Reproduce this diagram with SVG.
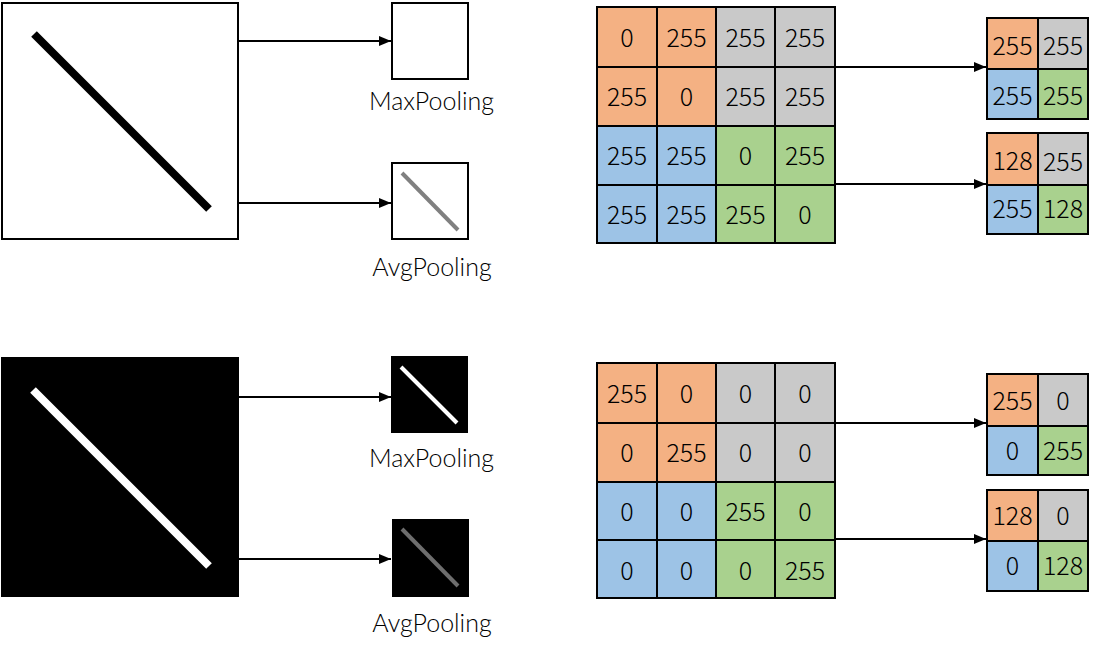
<svg xmlns="http://www.w3.org/2000/svg" width="1102" height="652" viewBox="0 0 1102 652">
<defs>
<marker id="arr" markerWidth="12" markerHeight="10" refX="12" refY="5" orient="auto" markerUnits="userSpaceOnUse">
<path d="M0,0 L12,5 L0,10 Z" fill="#000"/>
</marker>
<style>
.box{stroke:#000;stroke-width:2}
.lbl{font-family:Lato,"Liberation Sans",sans-serif;font-weight:300;font-size:25px;fill:#000;text-anchor:middle}
.c{stroke:#000;stroke-width:2}
.o{fill:#F4B183}.g{fill:#C9C9C9}.b{fill:#9DC3E6}.n{fill:#A9D18E}
.t{font-family:"Noto Sans CJK SC","Noto Sans",sans-serif;font-weight:300;font-size:25px;fill:#000;text-anchor:middle}
.conn{stroke:#000;stroke-width:2;fill:none;marker-end:url(#arr)}
</style>
</defs>
<rect width="1102" height="652" fill="#fff"/>

<g id="img-white">
<rect class="box" x="2" y="3" width="236" height="236" fill="#fff"/>
<line x1="34" y1="34" x2="209" y2="209" stroke="#000" stroke-width="8"/>
</g>
<g id="max-white">
<rect class="box" x="392" y="3" width="76" height="76" fill="#fff"/>
<text class="lbl" x="431.5" y="110">MaxPooling</text>
</g>
<g id="avg-white">
<rect class="box" x="392" y="163" width="76" height="76" fill="#fff"/>
<line x1="402" y1="173" x2="458" y2="230" stroke="#808080" stroke-width="4"/>
<text class="lbl" x="432" y="276">AvgPooling</text>
</g>

<g id="img-black">
<rect x="1" y="357" width="238" height="240" fill="#000"/>
<line x1="33" y1="390" x2="209" y2="566" stroke="#fff" stroke-width="8"/>
</g>
<g id="max-black">
<rect x="391" y="356" width="77" height="77" fill="#000"/>
<line x1="401" y1="367" x2="457" y2="423" stroke="#fff" stroke-width="4"/>
<text class="lbl" x="431.5" y="467">MaxPooling</text>
</g>
<g id="avg-black">
<rect x="392" y="519" width="77" height="78" fill="#000"/>
<line x1="402" y1="529" x2="458" y2="586" stroke="#6e6e6e" stroke-width="4"/>
<text class="lbl" x="432" y="632">AvgPooling</text>
</g>

<g id="grid-top">
<rect class="c o" x="597" y="7" width="60" height="60"/>
<rect class="c o" x="657" y="7" width="59" height="60"/>
<rect class="c g" x="716" y="7" width="59" height="60"/>
<rect class="c g" x="775" y="7" width="60" height="60"/>
<rect class="c o" x="597" y="67" width="60" height="59"/>
<rect class="c o" x="657" y="67" width="59" height="59"/>
<rect class="c g" x="716" y="67" width="59" height="59"/>
<rect class="c g" x="775" y="67" width="60" height="59"/>
<rect class="c b" x="597" y="126" width="60" height="59"/>
<rect class="c b" x="657" y="126" width="59" height="59"/>
<rect class="c n" x="716" y="126" width="59" height="59"/>
<rect class="c n" x="775" y="126" width="60" height="59"/>
<rect class="c b" x="597" y="185" width="60" height="58"/>
<rect class="c b" x="657" y="185" width="59" height="58"/>
<rect class="c n" x="716" y="185" width="59" height="58"/>
<rect class="c n" x="775" y="185" width="60" height="58"/>
<text class="t" x="627" y="47">0</text>
<text class="t" x="686.5" y="47">255</text>
<text class="t" x="745.5" y="47">255</text>
<text class="t" x="805" y="47">255</text>
<text class="t" x="627" y="106">255</text>
<text class="t" x="686.5" y="106">0</text>
<text class="t" x="745.5" y="106">255</text>
<text class="t" x="805" y="106">255</text>
<text class="t" x="627" y="165">255</text>
<text class="t" x="686.5" y="165">255</text>
<text class="t" x="745.5" y="165">0</text>
<text class="t" x="805" y="165">255</text>
<text class="t" x="627" y="224">255</text>
<text class="t" x="686.5" y="224">255</text>
<text class="t" x="745.5" y="224">255</text>
<text class="t" x="805" y="224">0</text>
</g>

<g id="out-top-max">
<rect class="c o" x="987" y="18" width="51" height="51"/>
<rect class="c g" x="1038" y="18" width="50" height="51"/>
<rect class="c b" x="987" y="69" width="51" height="50"/>
<rect class="c n" x="1038" y="69" width="50" height="50"/>
<text class="t" x="1012.5" y="55">255</text>
<text class="t" x="1063" y="55">255</text>
<text class="t" x="1012.5" y="105">255</text>
<text class="t" x="1063" y="105">255</text>
</g>
<g id="out-top-avg">
<rect class="c o" x="987" y="133" width="51" height="52"/>
<rect class="c g" x="1038" y="133" width="50" height="52"/>
<rect class="c b" x="987" y="185" width="51" height="49"/>
<rect class="c n" x="1038" y="185" width="50" height="49"/>
<text class="t" x="1012.5" y="170">128</text>
<text class="t" x="1063" y="171">255</text>
<text class="t" x="1012.5" y="218">255</text>
<text class="t" x="1063" y="218">128</text>
</g>

<g id="grid-bottom">
<rect class="c o" x="597" y="363" width="60" height="60"/>
<rect class="c o" x="657" y="363" width="59" height="60"/>
<rect class="c g" x="716" y="363" width="59" height="60"/>
<rect class="c g" x="775" y="363" width="60" height="60"/>
<rect class="c o" x="597" y="423" width="60" height="59"/>
<rect class="c o" x="657" y="423" width="59" height="59"/>
<rect class="c g" x="716" y="423" width="59" height="59"/>
<rect class="c g" x="775" y="423" width="60" height="59"/>
<rect class="c b" x="597" y="482" width="60" height="58"/>
<rect class="c b" x="657" y="482" width="59" height="58"/>
<rect class="c n" x="716" y="482" width="59" height="58"/>
<rect class="c n" x="775" y="482" width="60" height="58"/>
<rect class="c b" x="597" y="540" width="60" height="58"/>
<rect class="c b" x="657" y="540" width="59" height="58"/>
<rect class="c n" x="716" y="540" width="59" height="58"/>
<rect class="c n" x="775" y="540" width="60" height="58"/>
<text class="t" x="627" y="403">255</text>
<text class="t" x="686.5" y="403">0</text>
<text class="t" x="745.5" y="403">0</text>
<text class="t" x="805" y="403">0</text>
<text class="t" x="627" y="462">0</text>
<text class="t" x="686.5" y="462">255</text>
<text class="t" x="745.5" y="462">0</text>
<text class="t" x="805" y="462">0</text>
<text class="t" x="627" y="521">0</text>
<text class="t" x="686.5" y="521">0</text>
<text class="t" x="745.5" y="521">255</text>
<text class="t" x="805" y="521">0</text>
<text class="t" x="627" y="580">0</text>
<text class="t" x="686.5" y="580">0</text>
<text class="t" x="745.5" y="580">0</text>
<text class="t" x="805" y="580">255</text>
</g>

<g id="out-bottom-max">
<rect class="c o" x="987" y="374" width="51" height="52"/>
<rect class="c g" x="1038" y="374" width="50" height="52"/>
<rect class="c b" x="987" y="426" width="51" height="49"/>
<rect class="c n" x="1038" y="426" width="50" height="49"/>
<text class="t" x="1012.5" y="410">255</text>
<text class="t" x="1063" y="410">0</text>
<text class="t" x="1012.5" y="460">0</text>
<text class="t" x="1063" y="460">255</text>
</g>
<g id="out-bottom-avg">
<rect class="c o" x="987" y="490" width="51" height="51"/>
<rect class="c g" x="1038" y="490" width="50" height="51"/>
<rect class="c b" x="987" y="541" width="51" height="50"/>
<rect class="c n" x="1038" y="541" width="50" height="50"/>
<text class="t" x="1012.5" y="525">128</text>
<text class="t" x="1063" y="525">0</text>
<text class="t" x="1012.5" y="575">0</text>
<text class="t" x="1063" y="575">128</text>
</g>

<g id="connectors">
<line class="conn" x1="238" y1="41" x2="391" y2="41"/>
<line class="conn" x1="238" y1="203" x2="391" y2="203"/>
<line class="conn" x1="239" y1="397" x2="391" y2="397"/>
<line class="conn" x1="239" y1="559" x2="391" y2="559"/>
<line class="conn" x1="835" y1="67" x2="986" y2="67"/>
<line class="conn" x1="835" y1="184" x2="986" y2="184"/>
<line class="conn" x1="835" y1="423" x2="986" y2="423"/>
<line class="conn" x1="835" y1="539" x2="986" y2="539"/>
</g>
</svg>
